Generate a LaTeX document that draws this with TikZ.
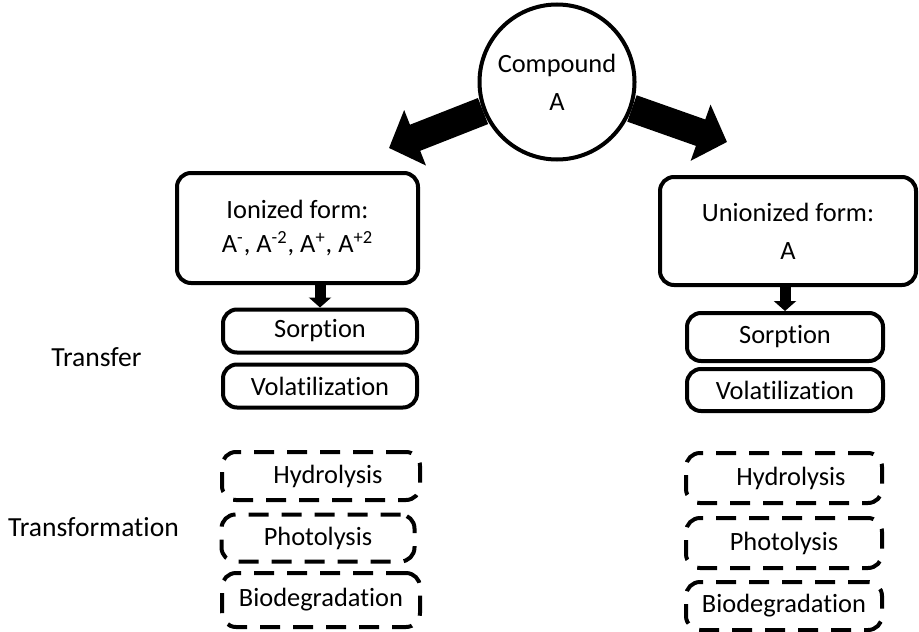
\documentclass[tikz,border=0pt]{standalone}
\usepackage{fontspec}
\setmainfont{Carlito}[Ligatures=NoCommon]
\usetikzlibrary{arrows.meta}

\tikzset{
  procbox/.style={draw,line width=2pt,rounded corners=7pt,align=center,inner sep=0pt},
  dashbox/.style={procbox,dash pattern=on 10pt off 6.5pt},
  bigarrow/.style={line width=14pt,-{Triangle[width=29pt,length=14pt]}},
  smallarrow/.style={line width=5.5pt,-{Triangle[width=11pt,length=5pt]}},
}

\begin{document}
\begin{tikzpicture}[x=0.5pt,y=-0.5pt,font=\fontsize{13.2}{19}\selectfont]
    \useasboundingbox (0,0) rectangle (919,631);
    %% compound and the two forms
    \node[draw,circle,line width=2pt,minimum size=77.5pt,inner sep=0pt,align=center] (cmpd) at (557,82) {Compound\\A};
    \coordinate (tipL) at (389,148);
    \coordinate (tipR) at (727,142);
    \draw[bigarrow] (cmpd) -- (tipL);
    \draw[bigarrow] (cmpd) -- (tipR);
    \node[procbox,minimum width=120.5pt,minimum height=55pt,font=\fontsize{13.2}{17}\selectfont] (ionL) at (297.5,228)
        {Ionized form:\\A\textsuperscript{-}, A\textsuperscript{-2}, A\textsuperscript{+}, A\textsuperscript{+2}};
    \node[procbox,minimum width=128pt,minimum height=54pt] (unionR) at (788,231) {Unionized form:\\A};
    %% transfer
    \node[font=\fontsize{13.8}{19}\selectfont] (transfer) at (96.5,357) {Transfer};
    \node[procbox,minimum width=97pt,minimum height=21.5pt] (sorpL) at (320,331) {Sorption};
    \node[procbox,minimum width=97pt,minimum height=21.5pt] (volL) at (320,386) {Volatilization};
    \node[procbox,minimum width=98pt,minimum height=24pt] (sorpR) at (785,337) {Sorption};
    \node[procbox,minimum width=98pt,minimum height=21pt] (volR) at (785,390) {Volatilization};
    \draw[smallarrow] (ionL.south -| sorpL.north) -- (sorpL.north);
    \draw[smallarrow] (unionR.south -| sorpR.north) -- (sorpR.north);
    %% transformation
    \node[font=\fontsize{13.8}{19}\selectfont] (transform) at (93.5,527) {Transformation};
    \node[dashbox,minimum width=99pt,minimum height=24pt] (hydL) at (321,476) {\hspace{7pt}Hydrolysis};
    \node[dashbox,minimum width=96.5pt,minimum height=23.5pt] (photL) at (318,538) {Photolysis};
    \node[dashbox,minimum width=99pt,minimum height=27pt] (bioL) at (321,600) {Biodegradation};
    \node[dashbox,minimum width=98pt,minimum height=25pt] (hydR) at (784,478) {\hspace{7pt}Hydrolysis};
    \node[dashbox,minimum width=98pt,minimum height=25pt] (photR) at (784,543) {Photolysis};
    \node[dashbox,minimum width=98pt,minimum height=24pt] (bioR) at (784,606) {Biodegradation};
\end{tikzpicture}
\end{document}
